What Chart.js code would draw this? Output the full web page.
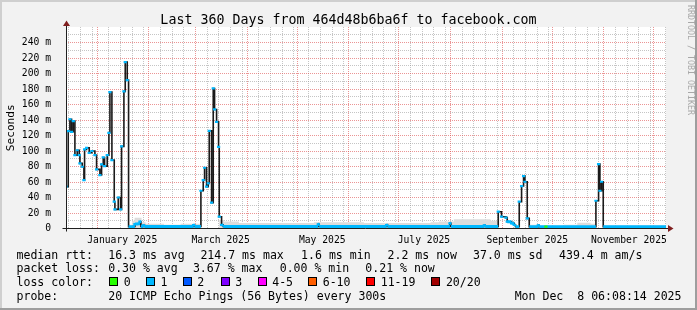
<!DOCTYPE html>
<html><head><meta charset="utf-8">
<script src="https://cdn.jsdelivr.net/npm/chart.js@4.4.1/dist/chart.umd.min.js"></script>
<style>html,body{margin:0;padding:0;background:#f2f2f2;overflow:hidden}canvas{display:block}</style>
</head><body>
<canvas id="c" width="697" height="310" style="width:697px;height:310px"></canvas>
<script>
const FONT = '"DejaVu Sans Mono", monospace';
const titleText = 'Last 360 Days from 464d48b6ba6f to facebook.com';
const yAxisTitle = 'Seconds';
const watermarkText = 'RRDTOOL / TOBI OETIKER';

// x axis: days relative to 2025-01-01 00:00
const startDay = -18.744;   // 2024-12-13 06:08
const endDay = 341.256;     // 2025-12-08 06:08
const monthStarts = [-31, 0, 31, 59, 90, 120, 151, 181, 212, 243, 273, 304, 334, 365];
const monthLabels = ['January 2025', 'March 2025', 'May 2025', 'July 2025', 'September 2025', 'November 2025'];
const monthLabelDays = [15, 74, 135, 196, 258, 319];

// y axis (milliseconds)
const yMax = 260;
const yTicks = [0, 20, 40, 60, 80, 100, 120, 140, 160, 180, 200, 220, 240];
const yTickLabels = ['0', '20 m', '40 m', '60 m', '80 m', '100 m', '120 m', '140 m', '160 m', '180 m', '200 m', '220 m', '240 m'];

// median rtt (ms) at step start times
const medianT = [-18.74, -17.4, -16.4, -15.4, -14.4, -13.4, -12.0, -10.8, -10.4, -9.0, -8.0, -7.6, -6.4, -4.8, -3.2, -1.4, -0.4, 1.6, 2.6, 3.6, 4.4, 6.0, 7.0, 7.6, 8.8, 10.2, 10.6, 12.6, 14.0, 14.6, 16.0, 16.8, 18.0, 18.8, 21.4, 22.6, 24.6, 25.6, 26.2, 27.6, 28.4, 57.8, 58.4, 62.2, 63.6, 64.4, 65.6, 66.6, 67.2, 68.6, 69.6, 70.4, 71.6, 72.8, 73.2, 74.6, 75.6, 132.6, 133.2, 173.6, 174.2, 211.6, 212.2, 232.2, 232.8, 240.6, 242.6, 245.2, 246.0, 248.6, 250.2, 251.0, 253.2, 254.6, 255.8, 256.6, 258.0, 259.2, 264.6, 265.2, 269.2, 269.8, 299.2, 300.8, 301.6, 302.6, 303.6, 341.26];
const medianMs = [54, 125.7, 141, 124.8, 138.6, 94.7, 101, 94.7, 84, 79.7, 62.5, 102, 104, 97.7, 100, 94.7, 76.3, 69, 82.7, 91.7, 80.5, 94.7, 123.5, 176, 88.3, 34.6, 24.7, 40, 24.7, 106, 177, 214.7, 191.4, 2.3, 2.5, 5.8, 6.0, 8.8, 2.5, 4.0, 2.5, 4.5, 2.5, 48.7, 62.5, 78.4, 54, 58.3, 126, 33.3, 180.7, 153.6, 137.7, 105.4, 15.2, 4.5, 2.5, 5.4, 2.5, 4.5, 2.5, 6.7, 2.5, 4.0, 2.5, 21.7, 15.2, 14.0, 8.8, 6.7, 4.5, 2.3, 34.6, 54.8, 67.7, 60.3, 13.1, 2.3, 4.0, 2.3, 2.3, 2.3, 35.8, 83.1, 48.7, 60.3, 2.3, 2.2];
const medianLoss = [1,1,1,1,1,1,1,1,1,1,1,1,1,1,1,1,1,1,1,1,1,1,1,1,1,1,1,1,1,1,1,1,1,1,1,1,1,1,1,1,1,1,1,1,1,1,1,1,1,1,1,1,1,1,1,1,1,1,1,1,1,1,1,1,1,1,1,1,1,1,1,1,1,1,1,1,1,1,1,1,0,1,1,1,1,1,1,1];

// smoke (upper edge, ms)
const smokeT = [18.8, 21.0, 22.4, 26.6, 29.0, 40.0, 50.0, 62.2, 73.2, 76.0, 85.0, 100, 130, 160, 200, 205, 214, 236, 240.6, 259.2, 265, 280, 288, 296, 299.2, 303.6, 320, 341.26];
const smokeMs = [5, 10, 14, 8, 6, 5, 6, 0, 11, 9, 7, 7, 8, 7, 8, 9, 12, 10, 0, 5, 4, 5, 7.5, 6, 0, 4, 4, 4];

const lossNames = ['0', '1', '2', '3', '4-5', '6-10', '11-19', '20/20'];
const lossColors = ['#26ff00', '#00b8ff', '#0059ff', '#7e00ff', '#ff00ff', '#ff5e00', '#ff0000', '#a10000'];

const statRows = [
  ['median rtt:', '16.3 ms avg', '214.7 ms max', '1.6 ms min', '2.2 ms now', '37.0 ms sd', '439.4 m am/s'],
  ['packet loss:', '0.30 % avg', '3.67 % max', '0.00 % min', '0.21 % now']
];
const probeText = ['probe:', '20 ICMP Echo Pings (56 Bytes) every 300s'];
const dateText = 'Mon Dec  8 06:08:14 2025';
const lossLabel = 'loss color:';

// layout (pixels)
const row1X = [16.5, 108.2, 200.4, 301.1, 387.5, 473, 559];
const row2X = [16.5, 108.2, 192.9, 279.7, 365.3];
const boxX = [109, 145.7, 182.6, 220.5, 257.5, 308, 366, 431.2];
const rowBase = [258.5, 272.3, 286.1, 299.9];
const LEGEND_FONT = '11.55px ' + FONT;

// derived datasets
const medianPts = medianT.map((t, i) => ({x: t, y: medianMs[i]}));
const bandPts = [];
medianT.forEach((t, i) => {
  if (medianMs[i] <= 10) {
    const tn = i + 1 < medianT.length ? medianT[i + 1] : endDay;
    bandPts.push({x: t, y: medianMs[i]}, {x: tn, y: medianMs[i]}, {x: tn, y: null});
  }
});
const markIdx = medianT.map((t, i) => i).filter(i => medianMs[i] > 3 || medianLoss[i] !== 1);
const markPts = markIdx.map(i => ({x: medianT[i], y: medianMs[i]}));
const markCols = markIdx.map(i => lossColors[medianLoss[i]]);
const smokePts = smokeT.map((t, i) => ({x: t, y: smokeMs[i]}));

const rrdPlugin = {
  id: 'rrd',
  beforeDraw(chart) {
    const ctx = chart.ctx, a = chart.chartArea;
    const xs = chart.scales.x, ys = chart.scales.y;
    ctx.save();
    ctx.fillStyle = '#f2f2f2'; ctx.fillRect(0, 0, 697, 310);
    ctx.fillStyle = '#cfcfcf'; ctx.fillRect(0, 0, 697, 2); ctx.fillRect(0, 0, 2, 310);
    ctx.fillStyle = '#9e9e9e'; ctx.fillRect(0, 308, 697, 2); ctx.fillRect(695, 0, 2, 310);
    ctx.fillStyle = '#ffffff'; ctx.fillRect(a.left, a.top, a.right - a.left, a.bottom - a.top);
    ctx.lineWidth = 1;
    ctx.setLineDash([1, 1]);
    // minor grid
    ctx.strokeStyle = 'rgba(150,150,150,0.55)';
    ctx.beginPath();
    for (let v = 10; v < yMax; v += 20) {
      const y = Math.floor(ys.getPixelForValue(v)) + 0.5;
      ctx.moveTo(a.left, y); ctx.lineTo(a.right, y);
    }
    for (let m = 0; m < monthStarts.length - 1; m++) {
      const len = monthStarts[m + 1] - monthStarts[m];
      for (let d = 7; d < len; d += 7) {
        const t = monthStarts[m] + d;
        if (t <= startDay || t >= endDay) continue;
        const x = Math.floor(xs.getPixelForValue(t)) + 0.5;
        ctx.moveTo(x, a.top); ctx.lineTo(x, a.bottom);
      }
    }
    ctx.stroke();
    // major grid
    ctx.strokeStyle = 'rgba(222,79,79,0.6)';
    ctx.beginPath();
    for (let v = 20; v < yMax; v += 20) {
      const y = Math.floor(ys.getPixelForValue(v)) + 0.5;
      ctx.moveTo(a.left, y); ctx.lineTo(a.right, y);
    }
    monthStarts.forEach(t => {
      if (t <= startDay || t >= endDay) return;
      const x = Math.floor(xs.getPixelForValue(t)) + 0.5;
      ctx.moveTo(x, a.top); ctx.lineTo(x, a.bottom);
    });
    ctx.stroke();
    ctx.restore();
  },
  afterDatasetsDraw(chart) {
    const ctx = chart.ctx, a = chart.chartArea;
    ctx.save();
    ctx.setLineDash([]);
    ctx.lineWidth = 1;
    ctx.strokeStyle = '#1f1f1f';
    const yb = Math.floor(a.bottom) + 0.5;
    const xl = Math.floor(a.left) + 0.5;
    ctx.beginPath();
    ctx.moveTo(xl - 4, yb); ctx.lineTo(a.right + 3, yb);
    ctx.moveTo(xl, yb + 3); ctx.lineTo(xl, a.top - 2);
    ctx.stroke();
    ctx.fillStyle = '#801f1f';
    ctx.beginPath();
    ctx.moveTo(a.right + 7.5, yb); ctx.lineTo(a.right + 2, yb - 3.5); ctx.lineTo(a.right + 2, yb + 3.5); ctx.closePath();
    ctx.fill();
    ctx.beginPath();
    ctx.moveTo(xl, a.top - 6.5); ctx.lineTo(xl - 3.5, a.top - 1); ctx.lineTo(xl + 3.5, a.top - 1); ctx.closePath();
    ctx.fill();
    ctx.restore();
  },
  afterDraw(chart) {
    const ctx = chart.ctx, a = chart.chartArea;
    ctx.save();
    ctx.fillStyle = '#000';
    ctx.textBaseline = 'alphabetic';
    ctx.font = '13.3px ' + FONT;
    ctx.textAlign = 'center';
    ctx.fillText(titleText, 348.5, 23.5);
    // y title
    ctx.save();
    ctx.translate(13.5, (a.top + a.bottom) / 2);
    ctx.rotate(-Math.PI / 2);
    ctx.font = '11.1px ' + FONT;
    ctx.textAlign = 'center';
    ctx.fillText(yAxisTitle, 0, 0);
    ctx.restore();
    // watermark
    ctx.save();
    ctx.translate(688, 5);
    ctx.rotate(Math.PI / 2);
    ctx.font = '8.3px ' + FONT;
    ctx.textAlign = 'left';
    ctx.fillStyle = '#a8a8a8';
    ctx.fillText(watermarkText, 0, 0);
    ctx.restore();
    // legend
    ctx.font = LEGEND_FONT;
    ctx.textAlign = 'left';
    statRows[0].forEach((s, i) => ctx.fillText(s, row1X[i], rowBase[0]));
    statRows[1].forEach((s, i) => ctx.fillText(s, row2X[i], rowBase[1]));
    ctx.fillText(lossLabel, 16.5, rowBase[2]);
    lossNames.forEach((n, i) => {
      const bx = Math.round(boxX[i]);
      ctx.fillStyle = lossColors[i];
      ctx.fillRect(bx, 277, 9, 9);
      ctx.strokeStyle = '#000'; ctx.lineWidth = 1;
      ctx.strokeRect(bx + 0.5, 277.5, 8, 8);
      ctx.fillStyle = '#000';
      ctx.fillText(n, boxX[i] + 14.7, rowBase[2]);
    });
    ctx.fillText(probeText[0], 16.5, rowBase[3]);
    ctx.fillText(probeText[1], 108.2, rowBase[3]);
    ctx.textAlign = 'right';
    ctx.fillText(dateText, 681.5, rowBase[3]);
    ctx.restore();
  }
};

new Chart(document.getElementById('c'), {
  type: 'line',
  data: {
    datasets: [
      {data: markPts, showLine: false, pointStyle: 'line', pointRadius: 1.6, pointBorderWidth: 2.2,
       pointBorderColor: markCols, pointBackgroundColor: markCols, order: 1},
      {data: bandPts, borderColor: '#00b8ff', borderWidth: 3, pointRadius: 0, spanGaps: false,
       borderCapStyle: 'butt', fill: false, order: 2},
      {data: medianPts, stepped: true, borderColor: '#1a1a1a', borderWidth: 1.6, pointRadius: 0, fill: false, order: 3},
      {data: smokePts, stepped: true, fill: 'origin', backgroundColor: '#dcdcdc', borderWidth: 0, pointRadius: 0, order: 4}
    ]
  },
  options: {
    responsive: false, animation: false, devicePixelRatio: 1, events: [],
    layout: {padding: {top: 27, right: 31, left: 0, bottom: 0}},
    plugins: {legend: {display: false}, tooltip: {enabled: false}, title: {display: false}},
    scales: {
      x: {
        type: 'linear', min: startDay, max: endDay,
        grid: {display: false}, border: {display: false},
        afterBuildTicks: s => { s.ticks = monthLabelDays.map(v => ({value: v})); },
        afterFit: s => { s.height = 310 - 228.5; },
        ticks: {autoSkip: false, maxRotation: 0, minRotation: 0, padding: -2, color: '#000',
                font: {family: FONT, size: 9.7}, callback: (v, i) => monthLabels[i]}
      },
      y: {
        type: 'linear', min: 0, max: yMax,
        grid: {display: false}, border: {display: false},
        afterBuildTicks: s => { s.ticks = yTicks.map(v => ({value: v})); },
        afterFit: s => { s.width = 66; },
        ticks: {padding: 7, color: '#000', font: {family: FONT, size: 9.7}, callback: (v, i) => yTickLabels[i]}
      }
    }
  },
  plugins: [rrdPlugin]
});
</script>
</body></html>
